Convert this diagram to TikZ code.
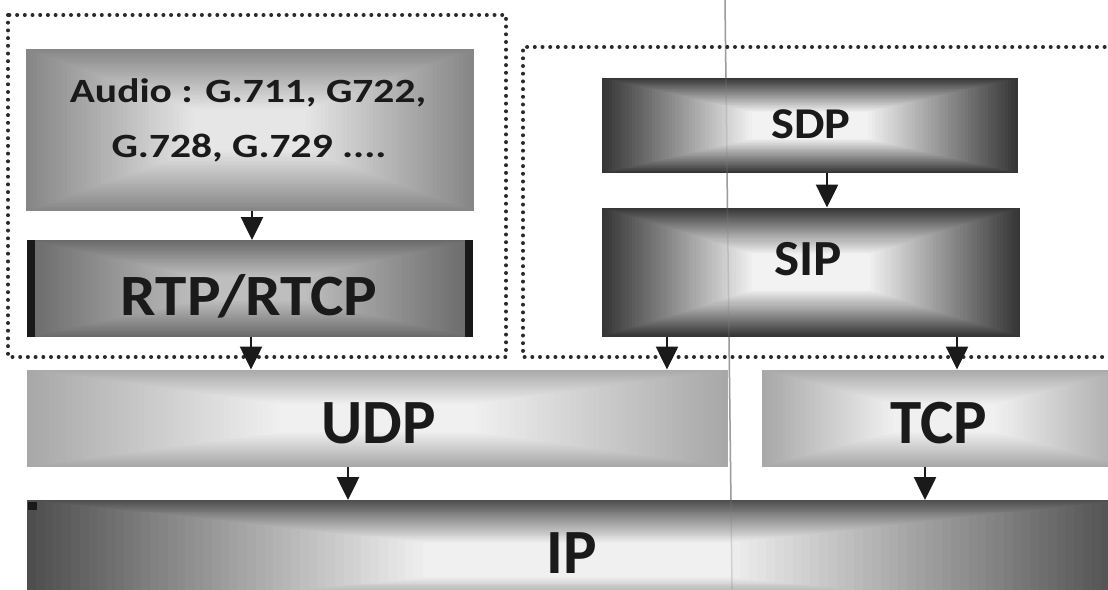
\documentclass[tikz,border=0pt]{standalone}
\usepackage{fontspec}
\setmainfont{Carlito}
\usetikzlibrary{arrows.meta,calc}
\definecolor{txt}{HTML}{1A1A1A}
\definecolor{dots}{HTML}{2A2A2A}
\definecolor{audioO}{HTML}{868686}
\definecolor{audioI}{HTML}{E6E6E6}
\definecolor{rtpO}{HTML}{6A6A6A}
\definecolor{rtpI}{HTML}{BEBEBE}
\definecolor{sipO}{HTML}{363636}
\definecolor{sipI}{HTML}{F2F2F2}
\definecolor{udpO}{HTML}{A8A8A8}
\definecolor{udpI}{HTML}{F0F0F0}
\definecolor{ipO}{HTML}{4E4E4E}
\definecolor{ipI}{HTML}{F0F0F0}
\newcommand{\gradfill}[4]{%
  \foreach \gi in {0,...,45}{%
    \pgfmathsetmacro{\gt}{#4*\gi/45}%
    \pgfmathsetmacro{\gp}{100*\gi/45}%
    \fill[#3!\gp!#2] ($(#1.south west)!\gt!(#1.center)$) rectangle ($(#1.north east)!\gt!(#1.center)$);
  }}
\newcommand{\sx}[2]{\scalebox{#1}[1]{#2}}
\begin{document}
\begin{tikzpicture}[x=1pt,y=-1pt,
  blk/.style 2 args={minimum width=#1pt, minimum height=#2pt, inner sep=0pt, outer sep=0pt, draw=none},
  lbl/.style={anchor=base, inner sep=0pt, text=txt, font=\bfseries\fontsize{#1}{#1}\selectfont},
  arr/.style={draw=txt, line width=2.6pt, -{Triangle[width=22pt,length=23pt]}},
  dotline/.style={draw=dots, line width=4pt, line cap=round, dash pattern=on 0pt off 7.7pt}]
\useasboundingbox (0,0) rectangle (1108,589);
\clip (0,0) rectangle (1108,589);
\fill[white] (0,0) rectangle (1108,589);
% thin vertical guide line behind
\draw[line width=1.5pt, draw=gray!70] (725,0) -- (732,589);

% boxes
\node[blk={448}{162}] (audio) at (250,130) {};
\node[blk={446}{97}]  (rtp)   at (250,288.5) {};
\node[blk={416}{95}]  (sdp)   at (810,125.5) {};
\node[blk={418}{129}] (sip)   at (811,272) {};
\node[blk={701}{97}]  (udp)   at (377.5,418) {};
\node[blk={366}{97}]  (tcp)   at (945,418) {};
\node[blk={1100}{120}] (ip)   at (577,560) {};

\gradfill{audio}{audioO}{audioI}{0.75}
\gradfill{rtp}{rtpO}{rtpI}{0.75}
\gradfill{sdp}{sipO}{sipI}{0.72}
\gradfill{sip}{sipO}{sipI}{0.72}
\gradfill{udp}{udpO}{udpI}{0.72}
\gradfill{tcp}{udpO}{udpI}{0.72}
\gradfill{ip}{ipO}{ipI}{0.72}

% dark side bars of RTP/RTCP
\fill[black!90] (rtp.north west) rectangle ($(rtp.south west)+(8,0)$);
\fill[black!90] ($(rtp.north east)+(-8,0)$) rectangle (rtp.south east);
% small mark at IP corner
\fill[black!90] ($(ip.north west)+(1,2)$) rectangle ($(ip.north west)+(10,10)$);

% faint guide line over boxes
\draw[line width=1.5pt, draw=gray, opacity=0.25] (725,0) -- (732,589);

% dotted group frames
\coordinate (lgA) at (8,15);
\coordinate (lgB) at (506,357);
\draw[dotline] (lgA) rectangle (lgB);
\coordinate (rgA) at (1120,47);
\coordinate (rgB) at (523,47);
\coordinate (rgC) at (523,357);
\coordinate (rgD) at (1120,357);
\draw[dotline] (rgA) -- (rgB) -- (rgC) -- (rgD);

% labels
\node[lbl=34] (audioA) at (248,102) {\sx{1.22}{Audio : G.711, G722,}};
\node[lbl=34] (audioB) at (249,157) {\sx{1.22}{G.728, G.729 ....}};
\node[lbl=58.5] (rtpT) at (249,315) {\sx{1.08}{RTP/RTCP}};
\node[lbl=44] (sdpT) at (811,138) {\sx{1.1}{SDP}};
\node[lbl=50.6] (sipT) at (808,275) {\sx{1.05}{SIP}};
\node[lbl=63] (udpT) at (379,443) {UDP};
\node[lbl=63] (tcpT) at (939,443) {TCP};
\node[lbl=63] (ipT) at (572,573) {IP};

% connectors
\draw[arr] (audio.south -| 252,0) -- (rtp.north -| 252,0);
\draw[arr] (rtp.south -| 251,0) -- (udp.north -| 251,0);
\draw[arr] (sdp.south -| 827,0) -- (sip.north -| 827,0);
\draw[arr] (sip.south -| 667,0) -- (udp.north -| 667,0);
\draw[arr] (sip.south -| 957,0) -- (tcp.north -| 957,0);
\draw[arr] (udp.south -| 348,0) -- (ip.north -| 348,0);
\draw[arr] (tcp.south -| 925,0) -- (ip.north -| 925,0);
\end{tikzpicture}
\end{document}
